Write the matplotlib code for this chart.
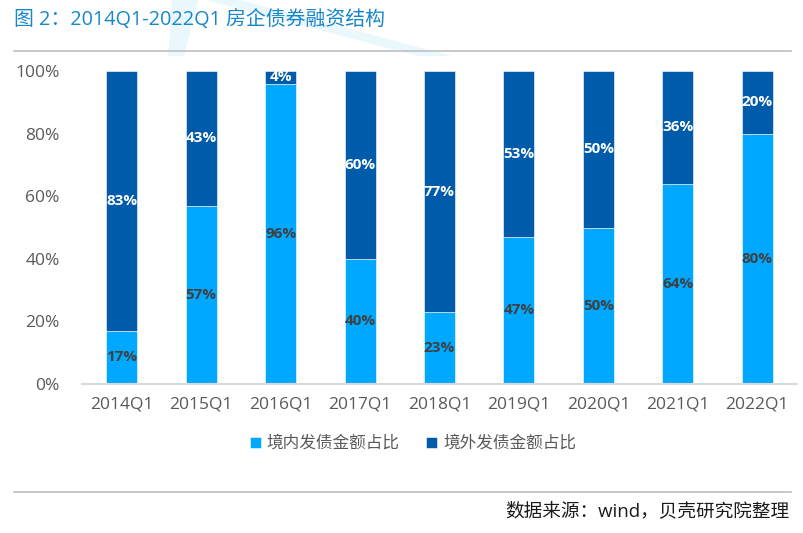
import matplotlib
matplotlib.use("Agg")
import matplotlib.pyplot as plt
from matplotlib.patches import Polygon
from matplotlib.lines import Line2D

FAM = ['Open Sans', 'Noto Sans CJK SC', 'DejaVu Sans']
plt.rcParams['font.family'] = FAM

categories = ["2014Q1", "2015Q1", "2016Q1", "2017Q1", "2018Q1", "2019Q1", "2020Q1", "2021Q1", "2022Q1"]
domestic = [17, 57, 96, 40, 23, 47, 50, 64, 80]
overseas = [83, 43, 4, 60, 77, 53, 50, 36, 20]
series_names = ["境内发债金额占比", "境外发债金额占比"]
yticks = [0, 20, 40, 60, 80, 100]
title = "图 2：2014Q1-2022Q1 房企债券融资结构"
source = "数据来源：wind，贝壳研究院整理"

c_light = "#00A8FF"
c_dark = "#005BAA"

W, H = 804, 533
fig = plt.figure(figsize=(W / 100, H / 100), dpi=100)

# faint watermark
def fpoly(pts, color):
    fig.patches.append(Polygon([(x / W, 1 - y / H) for x, y in pts], closed=True,
                               transform=fig.transFigure, facecolor=color,
                               edgecolor='none', zorder=0))
fpoly([(172, 0), (198, 0), (184, 56), (168, 56)], "#EAF7FD")
fpoly([(206, 0), (240, 0), (452, 56), (418, 56)], "#EAF7FD")

ax = fig.add_axes([82 / W, 1 - 384 / H, (797 - 82) / W, (384 - 71) / H])
x = list(range(len(categories)))
b1 = ax.bar(x, domestic, width=0.39, color=c_light, edgecolor='white', linewidth=0.4,
            label=series_names[0], zorder=2)
b2 = ax.bar(x, overseas, width=0.39, bottom=domestic, color=c_dark, edgecolor='white',
            linewidth=0.4, label=series_names[1], zorder=2)

for i in x:
    ax.text(i, domestic[i] / 2, f"{domestic[i]}%", ha='center', va='center',
            fontsize=11, fontweight='bold', color='#404040', zorder=3)
    ax.text(i, domestic[i] + overseas[i] / 2, f"{overseas[i]}%", ha='center', va='center',
            fontsize=11, fontweight='bold', color='white', zorder=3)

ax.set_xlim(-0.5, len(categories) - 0.5)
ax.set_ylim(0, 100)
ax.set_yticks(yticks)
ax.set_yticklabels([f"{v}%" for v in yticks])
ax.set_xticks(x)
ax.set_xticklabels(categories)
ax.tick_params(axis='both', length=0, labelsize=12.5, colors='#595959')
ax.tick_params(axis='y', pad=16)
ax.tick_params(axis='x', pad=9)
for s in ['top', 'right', 'left']:
    ax.spines[s].set_visible(False)
ax.spines['bottom'].set_color('#D9D9D9')
ax.spines['bottom'].set_linewidth(1.5)
ax.set_facecolor('none')

leg = fig.legend(handles=[b1, b2], labels=series_names, loc='center',
                 bbox_to_anchor=(413 / W, 1 - 444 / H), ncol=2, frameon=False,
                 fontsize=12, handlelength=0.65, handleheight=0.65, handletextpad=0.35,
                 columnspacing=1.6, labelcolor='#595959')

fig.text(14 / W, 1 - 20 / H, title, ha='left', va='center', fontsize=14.3, color='#1787C9')
fig.add_artist(Line2D([14 / W, 791 / W], [1 - 51 / H, 1 - 51 / H], transform=fig.transFigure,
                      color='#BFBFBF', linewidth=1.2))
fig.add_artist(Line2D([14 / W, 791 / W], [1 - 492 / H, 1 - 492 / H], transform=fig.transFigure,
                      color='#BFBFBF', linewidth=1.2))
fig.text(789 / W, 1 - 511 / H, source, ha='right', va='center', fontsize=13.4, color='#1a1a1a')

fig.savefig("out.png", dpi=100)
